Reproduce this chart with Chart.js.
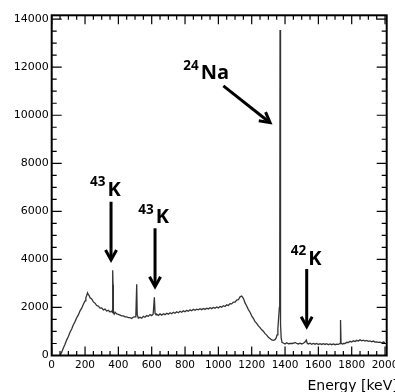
<!DOCTYPE html>
<html>
<head>
<meta charset="utf-8">
<script src="https://cdn.jsdelivr.net/npm/chart.js@4/dist/chart.umd.min.js"></script>
<style>
    html, body { margin: 0; padding: 0; background: #fff; }
    #wrap { width: 395px; height: 392px; }
</style>
</head>
<body>
<div id="wrap"><canvas id="espectro"></canvas></div>
<script>
// Datos del espectro (energía en keV, cuentas)
const energias = [
    50, 60, 70, 80, 90, 100, 110, 120, 130, 140, 150, 160, 170, 180, 190, 200, 205, 210, 215, 220,
    225, 230, 240, 250, 260, 270, 280, 290, 300, 310, 320, 330, 340, 350, 360, 364, 366, 368, 370, 375,
    380, 390, 400, 410, 420, 430, 440, 450, 460, 470, 480, 490, 500, 505, 510, 513, 520, 530, 540, 550,
    560, 570, 580, 590, 600, 609, 616, 620, 626, 630, 640, 650, 660, 670, 680, 690, 700, 710, 720, 730,
    740, 750, 760, 770, 780, 790, 800, 810, 820, 830, 840, 850, 860, 870, 880, 890, 900, 910, 920, 930,
    940, 950, 960, 970, 980, 990, 1000, 1010, 1020, 1030, 1040, 1050, 1060, 1070, 1080, 1090, 1100, 1110, 1120, 1130,
    1140, 1147, 1153, 1160, 1170, 1180, 1190, 1200, 1210, 1220, 1230, 1240, 1250, 1260, 1270, 1280, 1290, 1300, 1310, 1320,
    1330, 1340, 1347, 1352, 1357, 1362, 1366, 1368, 1370, 1372, 1374, 1377, 1382, 1390, 1400, 1410, 1420, 1430, 1440, 1450,
    1460, 1470, 1480, 1490, 1500, 1510, 1520, 1528, 1533, 1540, 1550, 1560, 1570, 1580, 1590, 1600, 1610, 1620, 1630, 1640,
    1650, 1660, 1670, 1680, 1690, 1700, 1710, 1720, 1730, 1733, 1736, 1745, 1750, 1760, 1770, 1780, 1790, 1800, 1810, 1820,
    1830, 1840, 1850, 1860, 1870, 1880, 1890, 1900, 1910, 1920, 1930, 1940, 1950, 1960, 1970, 1980, 1990, 2000
];
const cuentas = [
    0, 140, 310, 470, 650, 790, 970, 1100, 1280, 1410, 1570, 1690, 1860, 1970, 2130, 2270, 2410, 2500, 2610, 2530,
    2490, 2400, 2350, 2230, 2180, 2080, 2060, 1970, 1980, 1900, 1930, 1850, 1880, 1810, 1850, 1790, 3550, 2950, 1780, 1720,
    1800, 1730, 1710, 1680, 1650, 1650, 1610, 1610, 1580, 1580, 1540, 1600, 1610, 1680, 2960, 1700, 1560, 1590, 1550, 1630,
    1590, 1660, 1630, 1700, 1660, 1730, 2420, 1760, 1690, 1720, 1670, 1730, 1680, 1740, 1700, 1760, 1720, 1780, 1740, 1800,
    1760, 1820, 1780, 1840, 1800, 1860, 1820, 1880, 1840, 1900, 1860, 1920, 1880, 1930, 1900, 1950, 1910, 1960, 1920, 1970,
    1940, 1990, 1950, 2000, 1970, 2020, 1980, 2040, 2010, 2070, 2040, 2110, 2080, 2160, 2150, 2220, 2220, 2310, 2320, 2440,
    2470, 2410, 2330, 2190, 2060, 1910, 1800, 1650, 1550, 1410, 1340, 1230, 1160, 1070, 1010, 910, 850, 760, 710, 650,
    630, 660, 730, 860, 1100, 1600, 2000, 2150, 13550, 2100, 1300, 720, 540, 520, 480, 530, 490, 500, 500, 510,
    540, 500, 480, 510, 480, 510, 560, 640, 510, 480, 510, 470, 500, 470, 500, 460, 490, 460, 490, 460,
    490, 450, 480, 450, 480, 450, 470, 460, 500, 1480, 520, 470, 500, 500, 550, 540, 590, 560, 610, 580,
    630, 600, 650, 610, 640, 600, 630, 590, 610, 570, 600, 560, 570, 550, 560, 530, 560, 540
];

// Etiquetas de los ejes
const ticksX = [0, 200, 400, 600, 800, 1000, 1200, 1400, 1600, 1800, 2000];
const ticksY = [0, 2000, 4000, 6000, 8000, 10000, 12000, 14000];
const tituloX = 'Energy [keV]';

// Anotaciones: isótopo, posición del texto y flecha (en unidades de datos)
const anotaciones = [
    { sup: '43', main: 'K', x: 230, y: 6640, desde: [356, 6400], hasta: [356, 3975] },
    { sup: '43', main: 'K', x: 520, y: 5500, desde: [620, 5295], hasta: [620, 2865] },
    { sup: '24', main: 'Na', x: 790, y: 11500, desde: [1030, 11220], hasta: [1310, 9690] },
    { sup: '42', main: 'K', x: 1434, y: 3770, desde: [1530, 3600], hasta: [1530, 1200] }
];

// Dibujar una flecha con punta en V
function flecha(ctx, x0, y0, x1, y1) {
    const ang = Math.atan2(y1 - y0, x1 - x0);
    const largo = 10;
    const ancho = 5.5;
    ctx.beginPath();
    ctx.moveTo(x0, y0);
    ctx.lineTo(x1 - Math.cos(ang) * 2, y1 - Math.sin(ang) * 2);
    ctx.stroke();
    ctx.beginPath();
    ctx.moveTo(x1 - largo * Math.cos(ang) - ancho * Math.sin(ang), y1 - largo * Math.sin(ang) + ancho * Math.cos(ang));
    ctx.lineTo(x1, y1);
    ctx.lineTo(x1 - largo * Math.cos(ang) + ancho * Math.sin(ang), y1 - largo * Math.sin(ang) - ancho * Math.cos(ang));
    ctx.stroke();
}

// Plugin: marco, marcas hacia dentro, anotaciones y título del eje x
const marcoPlugin = {
    id: 'marco',
    afterDatasetsDraw(chart) {
        const { ctx, chartArea: a, scales: { x, y } } = chart;
        ctx.save();
        ctx.strokeStyle = '#000';
        ctx.fillStyle = '#000';

        // Marcas del eje x (mayores cada 200, menores cada 50)
        ctx.lineWidth = 1.2;
        ctx.beginPath();
        for (let e = 0; e <= 2000; e += 50) {
            const px = x.getPixelForValue(e);
            const len = e % 200 === 0 ? 9 : 4.5;
            ctx.moveTo(px, a.bottom);
            ctx.lineTo(px, a.bottom - len);
            ctx.moveTo(px, a.top);
            ctx.lineTo(px, a.top + len);
        }
        // Marcas del eje y (mayores cada 2000, menores cada 500)
        for (let c = 0; c <= 14000; c += 500) {
            const py = y.getPixelForValue(c);
            const len = c % 2000 === 0 ? 10 : 5;
            ctx.moveTo(a.left, py);
            ctx.lineTo(a.left + len, py);
            ctx.moveTo(a.right, py);
            ctx.lineTo(a.right - len, py);
        }
        ctx.stroke();

        // Marco
        ctx.lineWidth = 2;
        ctx.strokeRect(a.left, a.top, a.right - a.left, a.bottom - a.top);

        // Anotaciones
        ctx.lineWidth = 3;
        ctx.lineJoin = 'miter';
        ctx.textBaseline = 'alphabetic';
        ctx.textAlign = 'left';
        anotaciones.forEach(function (n) {
            const tx = x.getPixelForValue(n.x);
            const ty = y.getPixelForValue(n.y);
            ctx.font = 'bold 13.5px "Open Sans"';
            ctx.fillText(n.sup, tx, ty - 9.5);
            const w = ctx.measureText(n.sup).width;
            ctx.font = 'bold 20px "Open Sans"';
            ctx.fillText(n.main, tx + w + 2, ty);
            flecha(ctx,
                x.getPixelForValue(n.desde[0]), y.getPixelForValue(n.desde[1]),
                x.getPixelForValue(n.hasta[0]), y.getPixelForValue(n.hasta[1]));
        });

        // Título del eje x
        ctx.font = '14px "DejaVu Sans"';
        ctx.textAlign = 'right';
        ctx.fillText(tituloX, a.right + 11, chart.height - 2.5);
        ctx.restore();
    }
};

const ctx = document.getElementById('espectro');

new Chart(ctx, {
    type: 'line',
    data: {
        datasets: [{
            label: 'Cuentas',
            data: energias.map((e, i) => ({ x: e, y: cuentas[i] })),
            borderColor: '#333',
            borderWidth: 1.3,
            pointRadius: 0,
            tension: 0,
            fill: false
        }]
    },
    options: {
        responsive: true,
        maintainAspectRatio: false,
        animation: false,
        layout: {
            padding: { top: 15.3, right: 8.3, bottom: 0, left: 0 }
        },
        plugins: {
            legend: { display: false },
            tooltip: { enabled: false }
        },
        scales: {
            x: {
                type: 'linear',
                min: 0,
                max: 2010,
                grid: { display: false, drawTicks: false },
                border: { display: false },
                afterBuildTicks: function (scale) {
                    scale.ticks = ticksX.map(v => ({ value: v }));
                },
                ticks: {
                    autoSkip: false,
                    maxRotation: 0,
                    padding: 3,
                    color: '#000',
                    font: { family: 'DejaVu Sans', size: 10.5 },
                    callback: function (value) {
                        return String(value);
                    }
                },
                afterFit: function (scale) {
                    scale.height = 36.5;
                    scale.paddingLeft = 0;
                    scale.paddingRight = 0;
                }
            },
            y: {
                min: 0,
                max: 14160,
                grid: { display: false, drawTicks: false },
                border: { display: false },
                afterBuildTicks: function (scale) {
                    scale.ticks = ticksY.map(v => ({ value: v }));
                },
                ticks: {
                    autoSkip: false,
                    padding: 3,
                    color: '#000',
                    font: { family: 'DejaVu Sans', size: 11 },
                    callback: function (value) {
                        return String(value);
                    }
                },
                afterFit: function (scale) {
                    scale.width = 51.7;
                    scale.paddingTop = 0;
                    scale.paddingBottom = 0;
                }
            }
        }
    },
    plugins: [marcoPlugin]
});
</script>
</body>
</html>
